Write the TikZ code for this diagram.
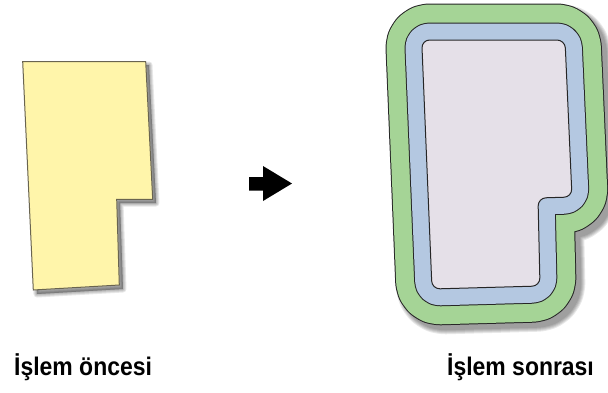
\documentclass[tikz,border=0pt]{standalone}
\usepackage{fontspec}
\usepackage{tikz}
\usetikzlibrary{arrows,shapes}
\newfontfamily\labelfont[FakeStretch=0.9]{Liberation Sans}
\definecolor{parcelyellow}{RGB}{255,245,170}
\definecolor{parceledge}{RGB}{105,100,80}
\definecolor{bufgreen}{RGB}{165,212,150}
\definecolor{bufblue}{RGB}{180,200,225}
\definecolor{parcelgray}{RGB}{229,224,232}
\begin{document}
\begin{tikzpicture}[x=1pt,y=-1pt,
    caption/.style={anchor=base west,inner sep=0pt,
      font=\labelfont\bfseries\fontsize{25.5}{30}\selectfont},
    shade/.style={black,opacity=0.09,line join=round}]
    \useasboundingbox (0,0) rectangle (608,392);
    % before: the parcel with its drop shadow
    \foreach \w in {1,3,5,7}
      \filldraw[shade,line width=\w] (26,65) -- (149,65) -- (156,203) -- (120,203)
        -- (123,289) -- (37,294) -- cycle;
    \filldraw[fill=parcelyellow,draw=parceledge,line width=1]
      (22.7,61.7) -- (145.7,61.7) -- (152.7,199.3) -- (116.7,199.3)
      -- (119.3,285) -- (33.3,290) -- cycle;
    % arrow
    \fill (249,177) -- (263,177) -- (263,166) -- (292,183.5) -- (263,201)
      -- (263,190.5) -- (249,190.5) -- cycle;
    % after: shadow, then the two buffer rings, then the parcel
    \foreach \w in {73,75,77,79,81}
      \filldraw[shade,line width=\w,rounded corners=8]
        (426,45) -- (570,45) -- (577,202) -- (543,203) -- (545,291)
        -- (437,294) -- cycle;
    \foreach \w/\c in {73/black!85,71/bufgreen,35/black!85,33/bufblue}
      \filldraw[color=\c,line width=\w,line join=round,rounded corners=8]
        (421.7,40) -- (565,40) -- (572,197) -- (538,198) -- (540,286)
        -- (432,289) -- cycle;
    \filldraw[fill=parcelgray,draw=black!85,line width=1,rounded corners=8]
      (421.7,40) -- (565,40) -- (572,197) -- (538,198) -- (540,286)
      -- (432,289) -- cycle;
    % captions
    \node[caption] (before) at (14,375) {İşlem öncesi};
    \node[caption] (after) at (447,375) {İşlem sonrası};
  \end{tikzpicture}
\end{document}
